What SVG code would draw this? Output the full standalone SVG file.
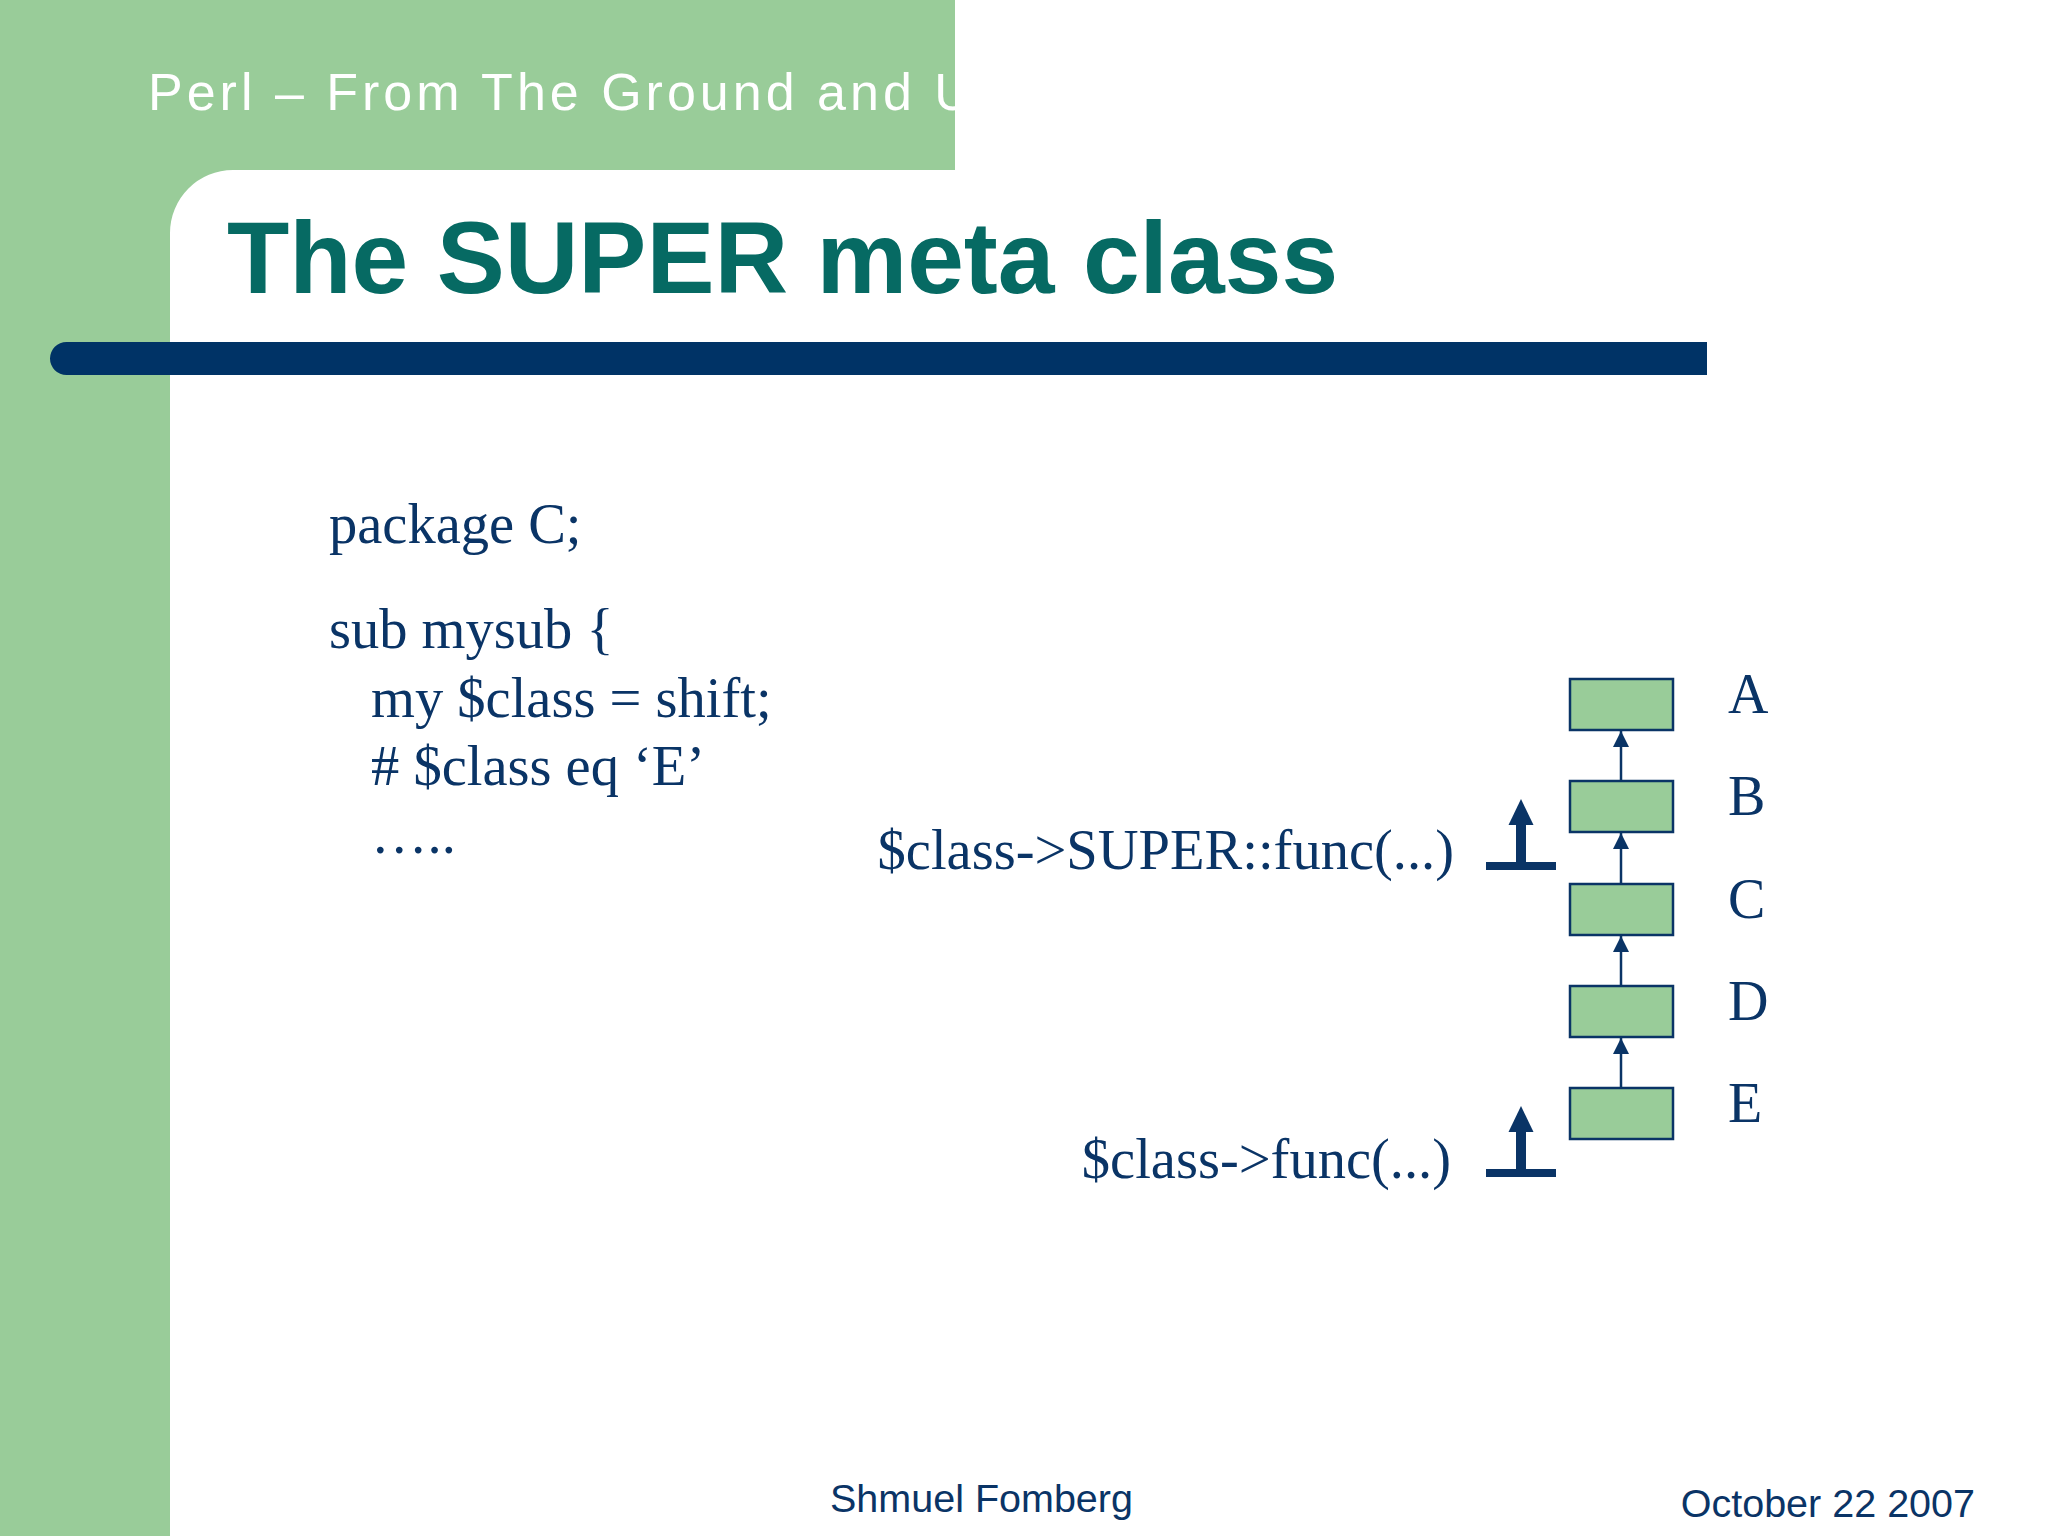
<svg xmlns="http://www.w3.org/2000/svg" width="2048" height="1536" viewBox="0 0 2048 1536">
  <defs>
    <style>
      .code { font-family: "Liberation Serif", "Times New Roman", serif; font-size: 56.5px; fill: #0a3466; }
      .lbl { font-family: "Liberation Serif", "Times New Roman", serif; font-size: 56px; fill: #0a3466; }
      .box { fill: #99cc99; stroke: #0a3466; stroke-width: 2.5; }
      .edge { stroke: #0a3466; stroke-width: 2.5; fill: none; }
      .foot { font-family: "Liberation Sans", Arial, sans-serif; font-size: 39.5px; fill: #0a3466; }
      .sym { fill: #0a3466; }
    </style>
    <marker id="arr" viewBox="0 0 16 16" markerWidth="16" markerHeight="16" refX="16" refY="8" orient="auto" markerUnits="userSpaceOnUse">
      <path d="M0,0 L16,8 L0,16 z" fill="#0a3466"/>
    </marker>
    <clipPath id="bandClip">
      <rect x="0" y="0" width="955" height="170"/>
    </clipPath>
  </defs>

  <rect x="0" y="0" width="2048" height="1536" fill="#ffffff"/>

  <!-- background green bands -->
  <rect x="0" y="0" width="170" height="1536" fill="#99cc99"/>
  <rect x="0" y="0" width="955" height="170" fill="#99cc99"/>
  <path d="M170,170 h63 a63,63 0 0 0 -63,63 z" fill="#99cc99"/>

  <!-- header -->
  <text x="148" y="110" clip-path="url(#bandClip)" font-family="Liberation Sans, Arial, sans-serif" font-size="52" letter-spacing="4" fill="#ffffff">Perl – From The Ground and U</text>

  <!-- title -->
  <text x="227" y="293" font-family="Liberation Sans, Arial, sans-serif" font-size="102" font-weight="bold" fill="#066a63">The SUPER meta class</text>

  <!-- blue bar -->
  <path d="M66.5,342 H1707 V375 H66.5 A16.5,16.5 0 0 1 66.5,342 z" fill="#003366"/>

  <!-- code -->
  <g id="code">
    <text class="code" x="329" y="543">package C;</text>
    <text class="code" x="329" y="648">sub mysub {</text>
    <text class="code" x="371" y="717">my $class = shift;</text>
    <text class="code" x="371" y="785"># $class eq ‘E’</text>
    <text class="code" x="371" y="853">…..</text>
  </g>

  <!-- calls -->
  <g id="call-super">
    <text class="code" x="1454" y="869" text-anchor="end">$class-&gt;SUPER::func(...)</text>
    <rect class="sym" x="1486" y="862" width="70" height="8"/>
    <rect class="sym" x="1516" y="822" width="10" height="42"/>
    <path class="sym" d="M1521,799 L1533.5,825 L1508.5,825 z"/>
  </g>
  <g id="call-func">
    <text class="code" x="1451" y="1178" text-anchor="end">$class-&gt;func(...)</text>
    <rect class="sym" x="1486" y="1169" width="70" height="8"/>
    <rect class="sym" x="1516" y="1129" width="10" height="42"/>
    <path class="sym" d="M1521,1106 L1533.5,1132 L1508.5,1132 z"/>
  </g>

  <!-- hierarchy nodes -->
  <g id="node-A"><rect class="box" x="1570" y="679" width="103" height="51"/><text class="lbl" x="1728" y="713">A</text></g>
  <g id="node-B"><rect class="box" x="1570" y="781" width="103" height="51"/><text class="lbl" x="1728" y="815">B</text></g>
  <g id="node-C"><rect class="box" x="1570" y="884" width="103" height="51"/><text class="lbl" x="1728" y="918">C</text></g>
  <g id="node-D"><rect class="box" x="1570" y="986" width="103" height="51"/><text class="lbl" x="1728" y="1020">D</text></g>
  <g id="node-E"><rect class="box" x="1570" y="1088" width="103" height="51"/><text class="lbl" x="1728" y="1122">E</text></g>

  <g id="connectors">
    <line class="edge" x1="1621" y1="781" x2="1621" y2="731" marker-end="url(#arr)"/>
    <line class="edge" x1="1621" y1="884" x2="1621" y2="833" marker-end="url(#arr)"/>
    <line class="edge" x1="1621" y1="986" x2="1621" y2="936" marker-end="url(#arr)"/>
    <line class="edge" x1="1621" y1="1088" x2="1621" y2="1038" marker-end="url(#arr)"/>
  </g>

  <!-- footer -->
  <text class="foot" x="830" y="1512">Shmuel Fomberg</text>
  <text class="foot" x="1975" y="1517" text-anchor="end">October 22 2007</text>
</svg>
